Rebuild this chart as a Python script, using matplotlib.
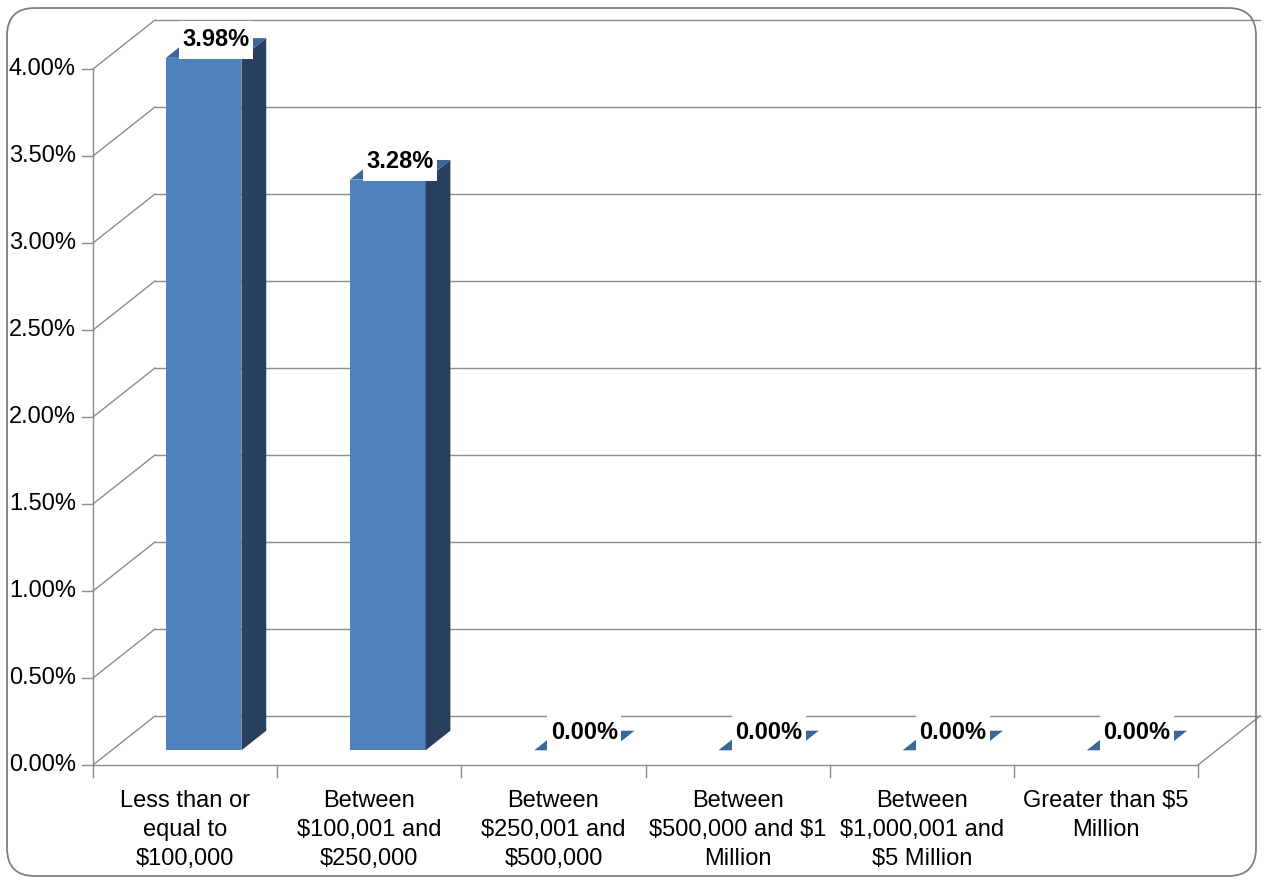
import matplotlib.pyplot as plt
from matplotlib.patches import Polygon, Rectangle, FancyBboxPatch

plt.rcParams['font.family'] = ['Liberation Sans', 'DejaVu Sans']
plt.rcParams['text.parse_math'] = False

# data
categories = ['Less than or\nequal to\n$100,000',
              'Between\n$100,001 and\n$250,000',
              'Between\n$250,001 and\n$500,000',
              'Between\n$500,000 and $1\nMillion',
              'Between\n$1,000,001 and\n$5 Million',
              'Greater than $5\nMillion']
values = [3.98, 3.28, 0.00, 0.00, 0.00, 0.00]
yticks = [0.0, 0.5, 1.0, 1.5, 2.0, 2.5, 3.0, 3.5, 4.0]

# layout (pixels of the 1264x884 picture)
W, H = 1264, 884
x0_px, y0_px = 93, 765          # front origin of the plot box
sx = 184.17                      # px per category
sy = 174.0                       # px per 1 %
Dx, Dy = 62 / sx, 49 / sy        # depth vector of the 3d box (data units)
f0, f1 = 0.30, 0.70              # bar depth range
bar_w = 0.41
fs = 17

grid_c = '#8c8c8c'
front_c = '#4f81bd'
side_c = '#283f5e'
top_c = '#3c6598'

fig = plt.figure(figsize=(W / 100, H / 100), dpi=100)
ax = fig.add_axes([0, 0, 1, 1])
ax.set_xlim(-x0_px / sx, (W - x0_px) / sx)
ax.set_ylim(-(H - y0_px) / sy, y0_px / sy)
ax.axis('off')

n = len(categories)
ymax = yticks[-1]

# back wall gridlines and side wall diagonals
for t in yticks:
    ax.plot([Dx, n + Dx], [t + Dy, t + Dy], color=grid_c, lw=1, zorder=1)
    ax.plot([0, Dx], [t, t + Dy], color=grid_c, lw=1, zorder=1)
    ax.plot([-11 / sx, 0], [t, t], color=grid_c, lw=1, zorder=1)
    ax.text(-17 / sx, t, f'{t:.2f}%', ha='right', va='center', fontsize=fs)

# front axes
ax.plot([0, 0], [0, ymax], color=grid_c, lw=1, zorder=1)
ax.plot([0, n], [0, 0], color=grid_c, lw=1, zorder=1)
ax.plot([n, n + Dx], [0, Dy], color=grid_c, lw=1, zorder=1)
for i in range(n + 1):
    ax.plot([i, i], [0, -12 / sy], color=grid_c, lw=1, zorder=1)

for i, (cat, v) in enumerate(zip(categories, values)):
    xl = i + 0.5 - bar_w / 2
    xr = xl + bar_w
    # front face
    ax.add_patch(Rectangle((xl + f0 * Dx, f0 * Dy), bar_w, v, fc=front_c, ec='none', zorder=2))
    # side face
    ax.add_patch(Polygon([(xr + f0 * Dx, f0 * Dy), (xr + f1 * Dx, f1 * Dy),
                          (xr + f1 * Dx, v + f1 * Dy), (xr + f0 * Dx, v + f0 * Dy)],
                         closed=True, fc=side_c, ec='none', zorder=2))
    # top face
    ax.add_patch(Polygon([(xl + f0 * Dx, v + f0 * Dy), (xr + f0 * Dx, v + f0 * Dy),
                          (xr + f1 * Dx, v + f1 * Dy), (xl + f1 * Dx, v + f1 * Dy)],
                         closed=True, fc=top_c, ec='none', zorder=2))
    # data label with white box
    lx = i + 0.5 + 0.5 * (f0 + f1) * Dx
    ly = v + f0 * Dy + 18 / sy
    bw, bh = 74 / sx, 38 / sy
    ax.add_patch(Rectangle((lx - bw / 2, ly - bh / 2), bw, bh, fc='white', ec='none', zorder=3))
    ax.text(lx, ly, f'{v:.2f}%', ha='center', va='center', fontsize=fs,
            fontweight='bold', zorder=4)
    # category label
    ax.text(i + 0.5, -25 / sy, cat, ha='center', va='top', fontsize=fs,
            linespacing=1.4)

# rounded chart border
border = FancyBboxPatch((7 / W, 8 / H), (W - 15) / W, (H - 16) / H,
                        boxstyle='round,pad=0,rounding_size=0.022',
                        transform=fig.transFigure, fc='none', ec='#7f7f7f', lw=1.3,
                        mutation_aspect=W / H)
fig.patches.append(border)

fig.savefig('out.png', dpi=100)
